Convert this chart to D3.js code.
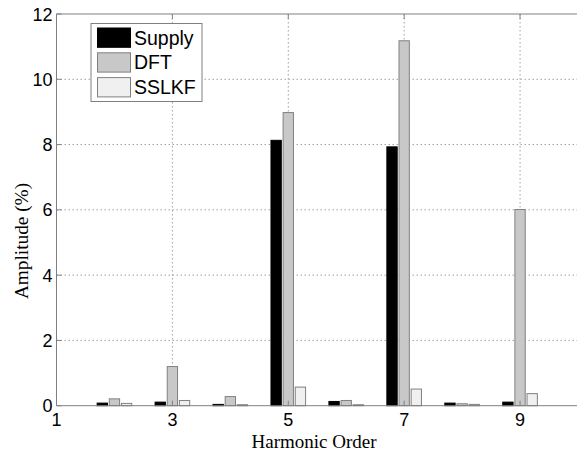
<!DOCTYPE html>
<html>
<head>
<meta charset="utf-8">
<script src="https://cdn.jsdelivr.net/npm/d3@7"></script>
<style>
  body { margin: 0; background: #fff; }
  svg { display: block; }
</style>
</head>
<body>
<div id="chart"></div>
<script>
// Daten
const harmonics = [2, 3, 4, 5, 6, 7, 8, 9];
const series = ['Supply', 'DFT', 'SSLKF'];
const supply = [0.08, 0.11, 0.04, 8.13, 0.13, 7.93, 0.08, 0.11];
const dft    = [0.21, 1.20, 0.28, 8.98, 0.16, 11.18, 0.06, 6.01];
const sslkf  = [0.07, 0.16, 0.03, 0.57, 0.03, 0.51, 0.04, 0.37];
const xTicks = [1, 3, 5, 7, 9];
const yTicks = [0, 2, 4, 6, 8, 10, 12];

const fills   = { Supply: '#000000', DFT: '#c8c8c8', SSLKF: '#f0f0f0' };
const strokes = { Supply: '#000000', DFT: '#808080', SSLKF: '#808080' };

const W = 577, H = 455;
const pLeft = 56.5, pRight = 578, pTop = 14, pBottom = 405.7;

const svg = d3.select('#chart').append('svg')
  .attr('width', W).attr('height', H);

const x = d3.scaleLinear().domain([1, 10]).range([pLeft, pRight]);
const y = d3.scaleLinear().domain([0, 12]).range([pBottom, pTop]);
const inner = d3.scaleBand().domain(series).range([-0.33, 0.33]).padding(0.15);

// Raster (gepunktet)
const grid = svg.append('g').attr('stroke', '#a0a0a0').attr('stroke-dasharray', '1.5,2.5');
grid.selectAll('line.gy').data(yTicks.filter(t => t > 0 && t < 12)).enter()
  .append('line')
    .attr('x1', pLeft).attr('x2', pRight)
    .attr('y1', d => y(d)).attr('y2', d => y(d));
grid.selectAll('line.gx').data(xTicks.filter(t => t > 1)).enter()
  .append('line')
    .attr('y1', pTop).attr('y2', pBottom)
    .attr('x1', d => x(d)).attr('x2', d => x(d));

// Balken
const values = { Supply: supply, DFT: dft, SSLKF: sslkf };
series.forEach(s => {
  svg.append('g').selectAll('rect')
    .data(harmonics.map((h, i) => ({ h, v: values[s][i] })))
    .enter().append('rect')
      .attr('x', d => x(d.h + inner(s)))
      .attr('width', x(1 + inner.bandwidth()) - x(1))
      .attr('y', d => y(d.v))
      .attr('height', d => y(0) - y(d.v))
      .attr('fill', fills[s])
      .attr('stroke', strokes[s])
      .attr('stroke-width', 1);
});

// Achsen
const axisColor = '#808080';
const ax = svg.append('g').attr('stroke', axisColor).attr('fill', 'none');
ax.append('line').attr('x1', pLeft).attr('x2', pRight).attr('y1', pBottom).attr('y2', pBottom);
ax.append('line').attr('x1', pLeft).attr('x2', pRight).attr('y1', pTop).attr('y2', pTop);
ax.append('line').attr('x1', pLeft).attr('x2', pLeft).attr('y1', pTop).attr('y2', pBottom);
// Ticks innen
yTicks.forEach(t => {
  ax.append('line').attr('x1', pLeft).attr('x2', pLeft + 5).attr('y1', y(t)).attr('y2', y(t));
});
xTicks.forEach(t => {
  ax.append('line').attr('x1', x(t)).attr('x2', x(t)).attr('y1', pBottom).attr('y2', pBottom - 5);
  ax.append('line').attr('x1', x(t)).attr('x2', x(t)).attr('y1', pTop).attr('y2', pTop + 5);
});

const tickFont = 'Liberation Sans, Arial, sans-serif';
svg.append('g').selectAll('text').data(yTicks).enter()
  .append('text')
    .attr('x', pLeft - 4).attr('y', d => y(d) + 6.5)
    .attr('text-anchor', 'end')
    .attr('font-family', tickFont).attr('font-size', 18)
    .text(d => d);
svg.append('g').selectAll('text').data(xTicks).enter()
  .append('text')
    .attr('x', d => x(d)).attr('y', 426)
    .attr('text-anchor', 'middle')
    .attr('font-family', tickFont).attr('font-size', 18)
    .text(d => d);

// Achsentitel
svg.append('text')
  .attr('x', 314).attr('y', 448)
  .attr('text-anchor', 'middle')
  .attr('font-family', 'Liberation Serif, Times New Roman, serif')
  .attr('font-size', 19)
  .text('Harmonic Order');
svg.append('text')
  .attr('transform', 'translate(28,241) rotate(-90)')
  .attr('text-anchor', 'middle')
  .attr('font-family', 'Liberation Serif, Times New Roman, serif')
  .attr('font-size', 19.3)
  .text('Amplitude (%)');

// Legende
const legend = svg.append('g').attr('transform', 'translate(91,23.5)');
legend.append('rect')
  .attr('width', 111).attr('height', 78)
  .attr('fill', '#fff').attr('stroke', axisColor);
series.forEach((s, i) => {
  legend.append('rect')
    .attr('x', 6.5).attr('y', 4.5 + i * 24.8)
    .attr('width', 33).attr('height', 19.3)
    .attr('fill', fills[s]).attr('stroke', strokes[s]);
  legend.append('text')
    .attr('x', 43).attr('y', 21 + i * 24.8)
    .attr('font-family', tickFont).attr('font-size', 19.5)
    .text(s);
});
</script>
</body>
</html>
